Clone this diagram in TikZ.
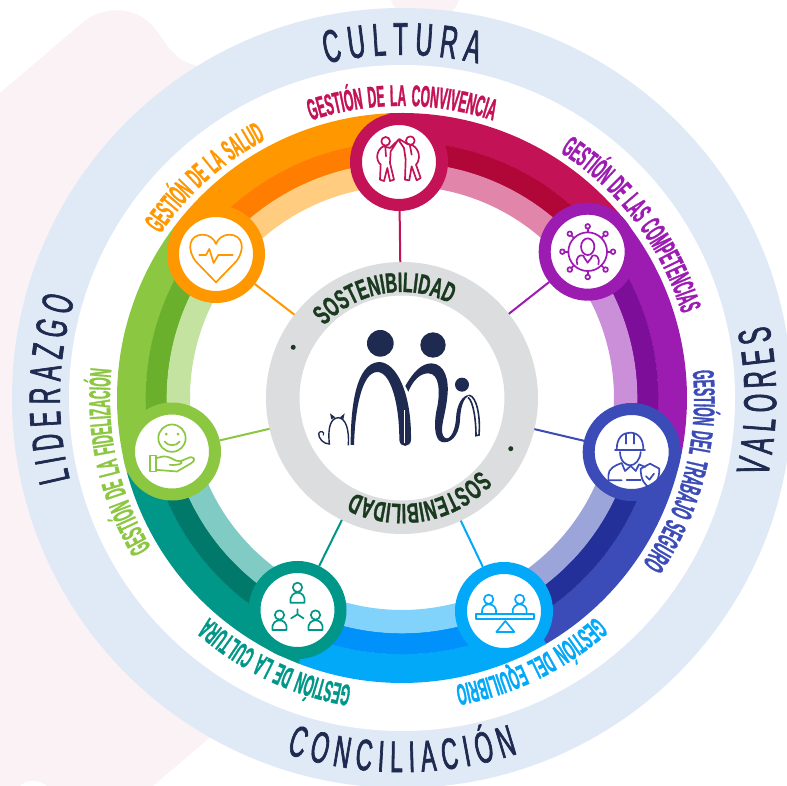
\documentclass[tikz,border=0pt]{standalone}
\usepackage{fontspec}
\usetikzlibrary{decorations.text}
\newfontfamily\outerfont[FakeStretch=0.52,FakeBold=1.5,WordSpace=0.6]{Liberation Sans}
\newfontfamily\outerwide[FakeStretch=0.52,FakeBold=1.5,WordSpace=1.0]{Liberation Sans}
\newfontfamily\gestfont[FakeStretch=0.40,FakeBold=1,WordSpace=1.5]{Liberation Sans Bold}
\newfontfamily\corefont[FakeStretch=0.58,FakeBold=1]{Liberation Sans Bold}
\definecolor{ringblue}{HTML}{E0EAF7}
\definecolor{pinkbg}{HTML}{FBF2F5}
\definecolor{navy}{HTML}{1E2A4F}
\definecolor{coregrey}{HTML}{DCDDDF}
\definecolor{coretext}{HTML}{1A3A20}
\definecolor{cA}{HTML}{C41257}\definecolor{cAd}{HTML}{B00638}\definecolor{cAl}{HTML}{E185AB}
\definecolor{cB}{HTML}{9C1BB0}\definecolor{cBd}{HTML}{7D0E99}\definecolor{cBl}{HTML}{CB8ED9}
\definecolor{cC}{HTML}{3B4CB8}\definecolor{cCd}{HTML}{243099}\definecolor{cCl}{HTML}{9BA5D9}
\definecolor{cD}{HTML}{03A9F9}\definecolor{cDd}{HTML}{0091FA}\definecolor{cDl}{HTML}{81D3FC}
\definecolor{cE}{HTML}{009688}\definecolor{cEd}{HTML}{00796B}\definecolor{cEl}{HTML}{80CBC4}
\definecolor{cF}{HTML}{8BC740}\definecolor{cFd}{HTML}{6AB02C}\definecolor{cFl}{HTML}{C5E3A0}
\definecolor{cG}{HTML}{FF9800}\definecolor{cGd}{HTML}{FF7D00}\definecolor{cGl}{HTML}{FFCC80}
\tikzset{
  hub/.style={circle,draw=#1,line width=12pt,fill=white,minimum size=86pt,inner sep=0pt},
  spoke/.style={draw=#1,line width=2pt},
  zoomed/.style n args={3}{shift={(#1)},x=0.3333pt,y=-0.3333pt,shift={(-#2,-#3)}},
  icon/.style={draw=#1,line width=1.7pt,line join=round,line cap=round,fill=none},
}
% three-colour sector: from, to, main, dark, light
\newcommand\bandsector[5]{%
  \fill[#3] (#1:285pt) arc[start angle=#1,end angle=#2,radius=285pt] -- (#2:256pt) arc[start angle=#2,end angle=#1,radius=256pt] -- cycle;
  \fill[#4] (#1:256.3pt) arc[start angle=#1,end angle=#2,radius=256.3pt] -- (#2:235pt) arc[start angle=#2,end angle=#1,radius=235pt] -- cycle;
  \fill[#5] (#1:235.3pt) arc[start angle=#1,end angle=#2,radius=235.3pt] -- (#2:212pt) arc[start angle=#2,end angle=#1,radius=212pt] -- cycle;
}
% clockwise label (tops outward): centre angle, radius, format, text
\newcommand\cwtext[4]{%
  \pgfmathsetmacro\sa{#1+70}\pgfmathsetmacro\ea{#1-70}
  \path[decorate,decoration={text along path,text align=center,text={|#3|#4}}]
    (\sa:#2 pt) arc[start angle=\sa,end angle=\ea,radius=#2 pt];
}
% counter-clockwise label (tops inward)
\newcommand\ccwtext[4]{%
  \pgfmathsetmacro\sa{#1-70}\pgfmathsetmacro\ea{#1+70}
  \path[decorate,decoration={text along path,text align=center,text={|#3|#4}}]
    (\sa:#2 pt) arc[start angle=\sa,end angle=\ea,radius=#2 pt];
}
\begin{document}
\begin{tikzpicture}
\useasboundingbox (-402pt,-388pt) rectangle (385pt,398pt);
% faint background
\fill[pinkbg] (-402pt,305pt) -- (-320pt,375pt) .. controls (-300pt,392pt) and (-270pt,392pt) .. (-252pt,375pt)
  .. controls (-240pt,362pt) and (-235pt,350pt) .. (-228pt,345pt) .. controls (-222pt,338pt) and (-215pt,335pt) .. (-205pt,332pt)
  -- (-150pt,200pt) -- (-150pt,-300pt) -- (-195pt,-342pt) -- (-249pt,-388pt) -- (-355pt,-388pt)
  .. controls (-365pt,-381pt) and (-375pt,-381pt) .. (-382pt,-388pt) -- (-402pt,-388pt) -- cycle;
\fill[pinkbg] (23pt,412pt) circle[radius=37pt];
\fill[pinkbg] (-110pt,360pt) .. controls (-95pt,385pt) and (-75pt,385pt) .. (-60pt,370pt) -- cycle;
% outer ring
\fill[ringblue] (0,0) circle[radius=390pt];
\fill[white] (0,0) circle[radius=333pt];
% coloured bands
\bandsector{93}{40.3}{cA}{cAd}{cAl}
\bandsector{40.6}{-11.3}{cB}{cBd}{cBl}
\bandsector{-11}{-59.9}{cC}{cCd}{cCl}
\bandsector{-59.6}{-111.6}{cD}{cDd}{cDl}
\bandsector{-111.3}{-165}{cE}{cEd}{cEl}
\bandsector{195.3}{143}{cF}{cFd}{cFl}
\bandsector{143.3}{92.7}{cG}{cGd}{cGl}
% centre
\node[circle,draw=coregrey,line width=33.5pt,fill=white,minimum size=238.5pt,inner sep=0pt] (core) at (0,0) {};
% hubs
\node[hub=cA] (n1) at (-3pt,236pt) {};
\node[hub=cB] (n2) at (185.7pt,146.3pt) {};
\node[hub=cC] (n3) at (229.7pt,-54pt) {};
\node[hub=cD] (n4) at (102pt,-213pt) {};
\node[hub=cE] (n5) at (-104.5pt,-212pt) {};
\node[hub=cF] (n6) at (-230pt,-53.5pt) {};
\node[hub=cG] (n7) at (-186pt,144pt) {};
% connectors
\draw[spoke=cA] (core) -- (n1);
\draw[spoke=cB] (core) -- (n2);
\draw[spoke=cC] (core) -- (n3);
\draw[spoke=cD] (core) -- (n4);
\draw[spoke=cE] (core) -- (n5);
\draw[spoke=cF] (core) -- (n6);
\draw[spoke=cG] (core) -- (n7);
% outer labels
\cwtext{90}{343}{\fontsize{46}{46}\outerfont\color{navy}}{C U L T U R A}
\cwtext{178.5}{342}{\fontsize{44}{44}\outerfont\color{navy}}{L I D E R A Z G O}
\ccwtext{-0.5}{374}{\fontsize{46}{46}\outerfont\color{navy}}{V A L O R E S}
\ccwtext{-90}{374}{\fontsize{44}{44}\outerwide\color{navy}}{C O N C I L I A C I Ó N}
% management labels
\cwtext{90}{292}{\fontsize{30}{30}\gestfont\color{cA}}{GESTIÓN DE LA CONVIVENCIA}
\cwtext{37}{292}{\fontsize{30}{30}\gestfont\color{cB}}{GESTIÓN DE LAS COMPETENCIAS}
\cwtext{-14.6}{292}{\fontsize{30}{30}\gestfont\color{cC}}{GESTIÓN DEL TRABAJO SEGURO}
\cwtext{-64}{292}{\fontsize{30}{30}\gestfont\color{cD}}{GESTIÓN DEL EQUILIBRIO}
\cwtext{-115.6}{292}{\fontsize{30}{30}\gestfont\color{cE}}{GESTIÓN DE LA CULTURA}
\cwtext{192.6}{292}{\fontsize{30}{30}\gestfont\color{cF}}{GESTIÓN DE LA FIDELIZACIÓN}
\cwtext{131.8}{292}{\fontsize{30}{30}\gestfont\color{cG}}{GESTIÓN DE LA SALUD}
% core labels
\cwtext{100}{106}{\fontsize{28}{28}\corefont\color{coretext}}{SOSTENIBILIDAD}
\cwtext{-80}{106}{\fontsize{28}{28}\corefont\color{coretext}}{SOSTENIBILIDAD}
\fill[coretext] (155:120pt) circle[radius=2.5pt];
\fill[coretext] (-25:120pt) circle[radius=2.5pt];
% logo
\begin{scope}[zoomed={core}{426}{414}]
  \fill[navy] (361,250) circle[radius=40];
  \fill[navy] (519,255) circle[radius=38];
  \fill[navy] (606,374) circle[radius=21];
  \fill[navy] (272,555) .. controls (272,450) and (285,308) .. (358,306)
     .. controls (410,308) and (455,400) .. (453,540) .. controls (452,562) and (420,565) .. (418,540)
     .. controls (418,430) and (392,336) .. (352,336) .. controls (305,336) and (285,450) .. (282,555) -- cycle;
  \draw[white,line width=1pt] (433,450) -- (433,548);
  \fill[navy] (436,378) .. controls (460,335) and (485,310) .. (515,310)
     .. controls (555,312) and (568,360) .. (562,410) .. controls (556,470) and (538,505) .. (550,528)
     .. controls (562,548) and (585,525) .. (588,475) .. controls (590,432) and (608,405) .. (628,405)
     .. controls (610,415) and (602,440) .. (600,480) .. controls (597,530) and (570,552) .. (545,546)
     .. controls (520,538) and (522,480) .. (532,440) .. controls (540,400) and (540,340) .. (505,340)
     .. controls (480,340) and (460,360) .. (445,395) -- cycle;
  \draw[navy,line width=1.6pt,line cap=round] (628,406) .. controls (650,410) and (662,470) .. (657,525) -- (648,527) .. controls (648,480) and (640,425) .. (625,413);
  \draw[navy,line width=1.2pt,line cap=round] (176,520) .. controls (180,510) and (195,515) .. (190,525);
  \draw[navy,line width=1.4pt] (176,520) .. controls (175,535) and (190,552) .. (208,552) .. controls (203,500) and (212,475) .. (235,473) .. controls (258,475) and (268,510) .. (265,556);
  \fill[navy] (210,460) -- (226,472) -- (214,478) -- cycle;
  \fill[navy] (254,460) -- (240,472) -- (250,478) -- cycle;
\end{scope}
% icon: convivencia
\begin{scope}[zoomed={n1}{417}{487}]
  \draw[icon=cA] (377,425) circle[radius=13];
  \draw[icon=cA] (451,423) circle[radius=13];
  \draw[icon=cA] (370,440) .. controls (350,450) and (345,480) .. (362,495) -- (360,540) -- (372,544) -- (382,505) -- (390,544) -- (402,540) -- (390,490) -- (392,455) -- (415,420) -- (432,445) -- (437,480) -- (435,540) -- (448,542) -- (455,500) -- (470,542) -- (482,535) -- (468,495) .. controls (482,480) and (480,450) .. (458,437) -- (440,432) -- (418,418) -- (390,445) -- cycle;
  \draw[icon=cA] (376,442) -- (378,470);
  \draw[icon=cA] (450,438) -- (455,465);
\end{scope}
% icon: competencias
\begin{scope}[zoomed={n2}{203}{360}]
  \draw[icon=cB] (203,360) circle[radius=58];
  \draw[icon=cB] (203,345) ellipse[x radius=20,y radius=25];
  \draw[icon=cB] (172,398) .. controls (165,375) and (180,368) .. (190,372) .. controls (195,385) and (203,390) .. (203,393) .. controls (203,390) and (212,385) .. (217,372) .. controls (228,368) and (240,375) .. (235,398);
  \foreach \a in {0,45,...,315}{
    \draw[icon=cB] ([shift={(203,360)}]\a:58) -- ([shift={(203,360)}]\a:70);
    \draw[icon=cB] ([shift={(203,360)}]\a:76) circle[radius=7];
  }
\end{scope}
% icon: trabajo seguro
\begin{scope}[zoomed={n3}{185}{155}]
  \draw[icon=cC] (140,148) .. controls (140,110) and (160,97) .. (180,97) .. controls (205,97) and (220,115) .. (220,148);
  \draw[icon=cC] (135,148) -- (225,148);
  \draw[icon=cC] (168,100) -- (168,130) (192,100) -- (192,130);
  \draw[icon=cC] (150,155) .. controls (150,185) and (170,195) .. (180,195) .. controls (195,195) and (210,180) .. (212,155);
  \draw[icon=cC] (155,240) -- (115,240) -- (115,225) .. controls (115,205) and (135,195) .. (155,188) -- (165,212) -- (182,197) -- (197,212) -- (207,192) -- (225,200);
  \draw[icon=cC] (170,240) -- (212,240);
  \draw[icon=cC] (240,190) -- (268,205) .. controls (268,240) and (255,255) .. (240,262) .. controls (225,255) and (212,240) .. (212,205) -- cycle;
  \draw[icon=cC] (228,228) -- (238,238) -- (252,220);
\end{scope}
% icon: equilibrio
\begin{scope}[zoomed={n4}{791}{182}]
  \draw[icon=cD] (745,147) circle[radius=14];
  \draw[icon=cD] (838,147) circle[radius=14];
  \draw[icon=cD] (725,190) .. controls (722,170) and (735,162) .. (745,162) .. controls (758,162) and (770,170) .. (767,190);
  \draw[icon=cD] (817,190) .. controls (814,170) and (827,162) .. (838,162) .. controls (850,162) and (862,170) .. (859,190);
  \draw[icon=cD] (707,192) rectangle (882,207);
  \draw[icon=cD] (795,212) -- (768,245) -- (822,245) -- cycle;
\end{scope}
% icon: cultura
\begin{scope}[zoomed={n5}{174}{180}]
  \draw[icon=cE] (174,112) circle[radius=14];
  \draw[icon=cE] (153,158) .. controls (150,135) and (165,128) .. (174,128) .. controls (185,128) and (198,135) .. (195,158) -- cycle;
  \draw[icon=cE] (120,195) circle[radius=14];
  \draw[icon=cE] (99,240) .. controls (96,218) and (110,211) .. (120,211) .. controls (131,211) and (144,218) .. (141,240) -- cycle;
  \draw[icon=cE] (228,195) circle[radius=14];
  \draw[icon=cE] (207,240) .. controls (204,218) and (218,211) .. (228,211) .. controls (239,211) and (252,218) .. (249,240) -- cycle;
  \draw[icon=cE] (174,178) -- (174,193) -- (155,205) (174,193) -- (192,205);
\end{scope}
% icon: fidelizacion
\begin{scope}[zoomed={n6}{157}{755}]
  \draw[icon=cF] (157,715) circle[radius=41];
  \fill[cF] (140,703) circle[radius=4.5] (175,703) circle[radius=4.5];
  \draw[icon=cF] (135,725) .. controls (145,740) and (170,740) .. (180,725);
  \draw[icon=cF] (90,767) rectangle (110,815);
  \draw[icon=cF] (110,775) -- (130,770) .. controls (145,768) and (160,778) .. (168,782) -- (185,785) .. controls (190,790) and (180,797) .. (150,795);
  \draw[icon=cF] (180,785) -- (212,772) .. controls (225,772) and (228,782) .. (215,790) -- (172,815) -- (110,810);
\end{scope}
% icon: salud
\begin{scope}[zoomed={n7}{285}{155}]
  \draw[icon=cG] (285,240) -- (225,178) .. controls (195,140) and (205,97) .. (245,97) .. controls (265,97) and (280,110) .. (285,125) .. controls (290,110) and (305,97) .. (325,97) .. controls (365,97) and (375,140) .. (345,178) -- cycle;
  \draw[icon=cG] (235,158) -- (255,158) -- (265,140) -- (278,182) -- (292,158) -- (335,158);
\end{scope}
\end{tikzpicture}
\end{document}
